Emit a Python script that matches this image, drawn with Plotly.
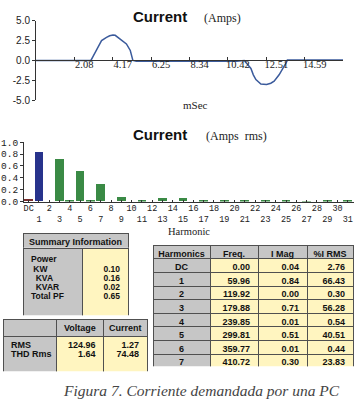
import plotly.graph_objects as go

W, H = 359, 409

# ---- waveform data (ms, amps) ----
t_ms = [0, 2.98, 3.10, 3.28, 3.42, 3.56, 3.70, 3.83, 4.00, 4.18, 4.30, 4.45, 4.70, 4.91,
        5.12, 5.26, 5.45, 8.0, 10.9, 11.31, 11.50, 11.67, 11.80, 11.94, 12.21, 12.52,
        12.75, 12.93, 13.20, 13.42, 13.58, 13.65, 16.67]
amps = [0, 0, 0.5, 1.2, 1.9, 2.5, 2.75, 2.9, 3.1, 3.2, 3.15, 2.9, 2.5, 2.07,
        1.25, 0.0, -0.1, -0.1, -0.1, 0.0, -0.5, -1.0, -1.8, -2.4, -2.95, -3.0,
        -2.85, -2.6, -1.8, -1.0, -0.3, 0.05, 0.05]
wave_ticks = [2.08, 4.17, 6.25, 8.34, 10.42, 12.51, 14.59, 16.67]
wave_ticktext = ["2.08", "4.17", "6.25", "8.34", "10.42", "12.51", "14.59", ""]
wave_yticks = [-5, -2.5, 0, 2.5, 5]
wave_yticktext = ["-5.0", "-2.5", "0.0", "2.5", "5.0"]

# ---- harmonic spectrum ----
harm_pos = list(range(32))
harm_labels = ["DC"] + [str(i) for i in range(1, 32)]
harm_mag = [0.04, 0.84, 0.00, 0.71, 0.01, 0.51, 0.01, 0.30, 0.0, 0.08, 0.0, 0.01,
            0.0, 0.06, 0.0, 0.06, 0.0, 0.02, 0.0, 0.01, 0.0, 0.02, 0.0, 0.025,
            0.0, 0.01, 0.0, 0.005, 0.0, 0.01, 0.0, 0.01]
bar_yticks = [0, 0.2, 0.4, 0.6, 0.8, 1.0]
bar_yticktext = ["0.0", "0.2", "0.4", "0.6", "0.8", "1.0"]

# ---- tables ----
summary_title = "Summary\u00a0Information"
summary_labels = ["Power", "\u00a0KW", "\u00a0\u00a0KVA", "\u00a0\u00a0KVAR", "Total\u00a0PF"]
summary_values = ["", "0.10", "0.16", "0.02", "0.65"]
vc_header = ["", "Voltage", "Current"]
vc_rows = ["RMS", "THD\u00a0Rms"]
vc_voltage = ["124.96", "1.64"]
vc_current = ["1.27", "74.48"]
harm_header = ["Harmonics", "Freq.", "I\u00a0Mag", "%I\u00a0RMS"]
tbl_harm = ["DC", "1", "2", "3", "4", "5", "6", "7"]
tbl_freq = ["0.00", "59.96", "119.92", "179.88", "239.85", "299.81", "359.77", "410.72"]
tbl_imag = ["0.04", "0.84", "0.00", "0.71", "0.01", "0.51", "0.01", "0.30"]
tbl_pct = ["2.76", "66.43", "0.30", "56.28", "0.54", "40.51", "0.44", "23.83"]

GRAY = "#c6c6c6"
YEL = "#fff5c0"
BORDER = "#505050"
WAVE = "#3b5b9c"
NONE = "rgba(0,0,0,0)"
FONT_FAMILY = "Liberation Sans"
FONT_SIZE = 9
LIFT = 3.5  # text sits a bit higher than plotly's default cell padding


def px(x):
    return x / W


def py(y):
    return 1 - y / H


fig = go.Figure()

fig.add_trace(go.Scatter(x=t_ms, y=amps, mode="lines", line=dict(color=WAVE, width=1.5),
                         xaxis="x", yaxis="y", showlegend=False, hoverinfo="skip"))

bar_colors = ["#7a2e2e", "#28338c"] + ["#3a8a45"] * 30
fig.add_trace(go.Bar(x=harm_pos, y=harm_mag, marker=dict(color=bar_colors, line=dict(width=0)),
                     width=0.85, xaxis="x2", yaxis="y2", showlegend=False, hoverinfo="skip"))


def blank(vals):
    return [[""] * len(v) if isinstance(v, list) else "" for v in vals]


def grid(x0, x1, y0, y1, colw, hvals, hfill, hh, cvals, cfill, ch):
    """Cell fills and borders (no text)."""
    fig.add_trace(go.Table(
        domain=dict(x=[px(x0), px(x1)], y=[py(y1), py(y0)]),
        columnwidth=colw,
        header=dict(values=blank(hvals), fill_color=hfill, line=dict(color=BORDER, width=1),
                    font=dict(family=FONT_FAMILY, size=FONT_SIZE, color=NONE), height=hh),
        cells=dict(values=blank(cvals), fill_color=cfill, line=dict(color=BORDER, width=1),
                   font=dict(family=FONT_FAMILY, size=FONT_SIZE, color=NONE), height=ch)))


def text(x0, x1, y0, y1, colw, hvals, halign, hh, cvals, calign, ch, lift=LIFT, size=FONT_SIZE):
    """Cell texts only (transparent cells), lifted to centre them in the grid rows."""
    f = dict(family=FONT_FAMILY, size=size, color="#111", weight="bold")
    fig.add_trace(go.Table(
        domain=dict(x=[px(x0), px(x1)], y=[py(y1), py(y0 - lift)]),
        columnwidth=colw,
        header=dict(values=hvals, fill_color=NONE, line=dict(color=NONE, width=0),
                    font=f, align=halign, height=hh),
        cells=dict(values=cvals, fill_color=NONE, line=dict(color=NONE, width=0),
                   font=f, align=calign, height=ch)))


# Summary information table
grid(23, 128, 235, 250, [1], [summary_title], GRAY, 15, [[""]], GRAY, 10)
text(23, 128, 235, 250, [1], [summary_title], "center", 15, [[""]], "center", 10)
grid(23, 128, 250, 319, [59, 46], [summary_labels[0], summary_values[0]], [GRAY, YEL], 69,
     [[""], [""]], [GRAY, YEL], 10)
text(23, 128, 250, 319, [59, 46], [summary_labels[0], summary_values[0]], ["left", "right"], 10,
     [summary_labels[1:], summary_values[1:]], ["left", "right"], 8.8, lift=0.5, size=8.5)

# Voltage / current table
grid(3, 147, 323, 377, [54, 48, 44], vc_header, GRAY, 17,
     [[""], [""], [""]], [GRAY, YEL, YEL], 36)
text(3, 147, 323, 377, [54, 48, 44], vc_header, "center", 17,
     [vc_rows, vc_voltage, vc_current], ["left", "right", "right"], 9)

# Harmonics table
grid(153, 353, 247, 372, [57, 48, 49, 46], harm_header, GRAY, 13.5,
     [tbl_harm, tbl_freq, tbl_imag, tbl_pct], [GRAY, YEL, YEL, YEL], 13.6)
text(153, 353, 247, 372, [57, 48, 49, 46], harm_header, "center", 13.5,
     [tbl_harm, tbl_freq, tbl_imag, tbl_pct], ["center", "right", "right", "right"], 13.6)

axis_line = dict(showline=True, linecolor="#333", linewidth=1, showgrid=False, zeroline=False)

odd_even_text = [lab if i % 2 == 0 else "<br>" + lab for i, lab in enumerate(harm_labels)]

fig.update_layout(
    width=W, height=H, margin=dict(l=0, r=0, t=0, b=0),
    paper_bgcolor="white", plot_bgcolor="white", showlegend=False, bargap=0,
    xaxis=dict(domain=[px(36), px(343)], range=[0, 16.67], anchor="free", position=(py(16) + py(98)) / 2,
               tickvals=wave_ticks, ticktext=wave_ticktext, ticks="inside", ticklen=3, tickcolor="#333",
               ticklabelshift=10, ticklabelstandoff=-6, tickangle=0,
               tickfont=dict(family="Liberation Serif", size=10.5, color="#222"), **axis_line),
    yaxis=dict(domain=[py(98), py(16)], range=[-5, 5], anchor="x", position=0,
               tickvals=wave_yticks, ticktext=wave_yticktext, ticks="outside", ticklen=3, tickcolor="#333",
               tickfont=dict(family="Liberation Sans", size=10, color="#222"), **axis_line),
    xaxis2=dict(domain=[px(24), px(354)], range=[-0.45, 31.6], anchor="y2",
                tickvals=harm_pos, ticktext=odd_even_text, ticks="inside", ticklen=2,
                tickcolor="#333", ticklabelstandoff=-2, tickangle=0,
                tickfont=dict(family="Liberation Mono", size=8.5, color="#222"), **axis_line),
    yaxis2=dict(domain=[py(202), py(141)], range=[0, 1.0], anchor="x2",
                tickvals=bar_yticks, ticktext=bar_yticktext, ticks="outside", ticklen=3, tickcolor="#333",
                tickfont=dict(family="Liberation Mono", size=9.5, color="#222"), **axis_line),
)

ann = [
    dict(text="<b>Current</b>", x=px(159.5), y=py(12), font=dict(family="Liberation Sans", size=15, color="#111")),
    dict(text="(Amps)", x=px(222.5), y=py(13), font=dict(family="Liberation Serif", size=12, color="#222")),
    dict(text="mSec", x=px(195), y=py(103), font=dict(family="Liberation Serif", size=11, color="#222")),
    dict(text="<b>Current</b>", x=px(159.5), y=py(133), font=dict(family="Liberation Sans", size=15, color="#111")),
    dict(text="(Amps\u00a0\u00a0rms)", x=px(236.5), y=py(135), font=dict(family="Liberation Serif", size=12, color="#222")),
    dict(text="Harmonic", x=px(189), y=py(233), font=dict(family="Liberation Serif", size=10.5, color="#222")),
    dict(text="Figura 7. Corriente demandada por una PC", x=px(201.5), y=py(396),
         font=dict(family="Liberation Serif", size=15.5, color="#444", style="italic")),
]
for a in ann:
    fig.add_annotation(xref="paper", yref="paper", showarrow=False, xanchor="center", yanchor="middle", **a)

fig.write_html("out.html")
